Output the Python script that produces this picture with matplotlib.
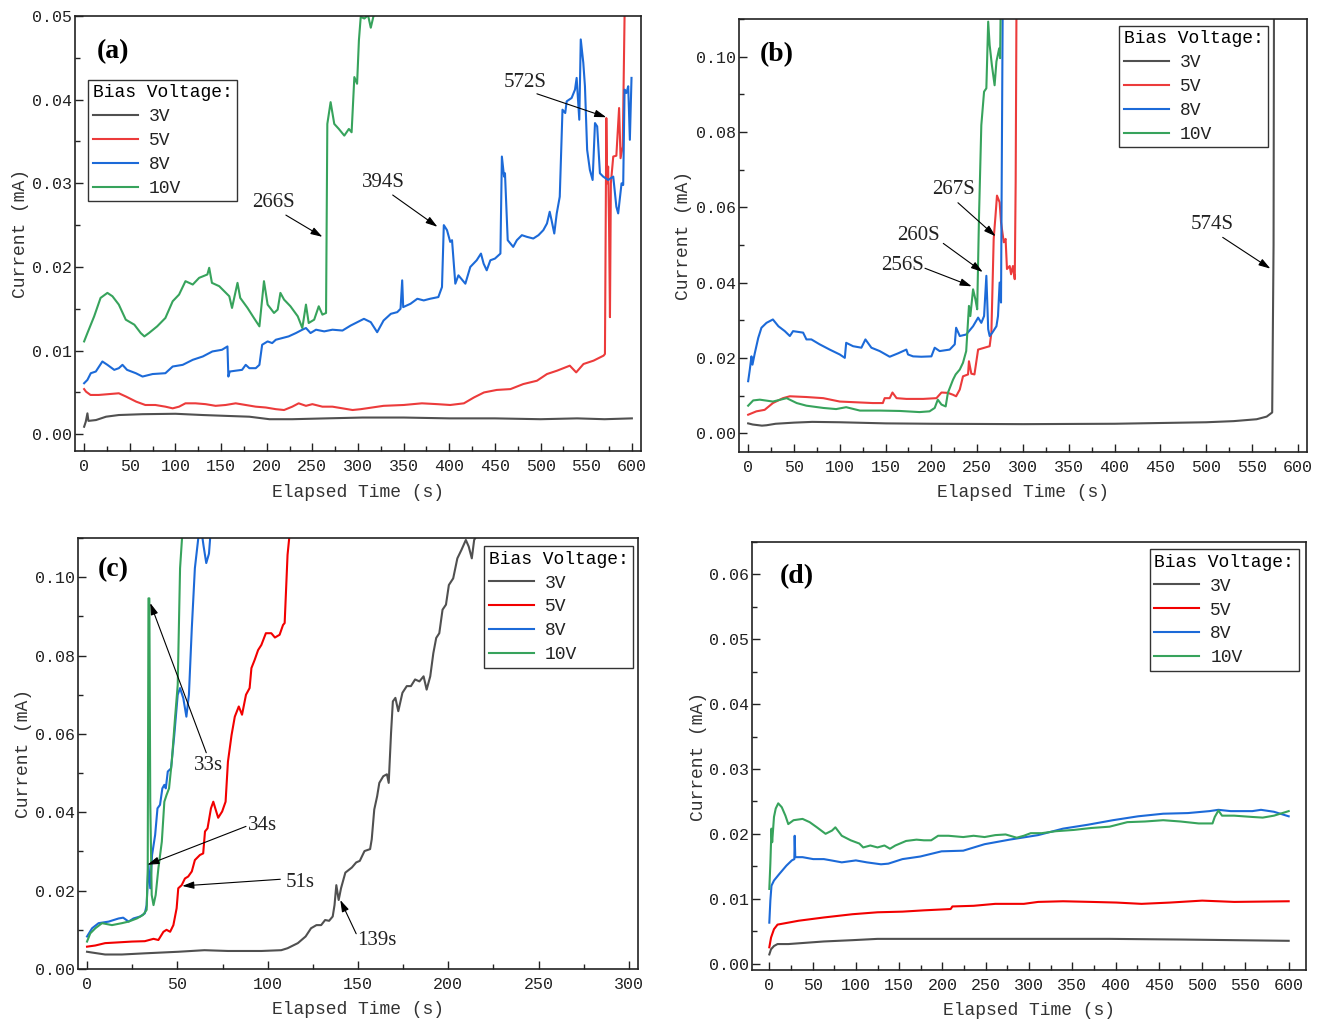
"""Leakage current vs elapsed time under four bias voltages, panels (a)-(d)."""
import numpy as np
import matplotlib
matplotlib.use("Agg")
import matplotlib.pyplot as plt
from matplotlib.ticker import MultipleLocator, FuncFormatter

plt.rcParams["font.family"] = ["Liberation Mono", "DejaVu Sans Mono"]

VOLTAGES = ["3V", "5V", "8V", "10V"]

# ---- panel (a): (time s, current mA) ----
A_3V = np.array([(0, 0.0009), (1.8, 0.0015), (3.6, 0.0025), (4.7, 0.0016), (13, 0.0017), (24, 0.0021),
                 (38, 0.0023), (64, 0.0024), (100, 0.00245), (130, 0.0023), (155, 0.0022), (181, 0.0021),
                 (203, 0.0018), (228, 0.0018), (265, 0.0019), (305, 0.0020), (350, 0.0020), (400, 0.0019),
                 (450, 0.0019), (500, 0.0018), (540, 0.0019), (570, 0.0018), (600, 0.0019)])
A_5V = np.array([(0, 0.0054), (2, 0.0051), (7, 0.0047), (16, 0.0047), (27, 0.0048), (38, 0.0049), (46, 0.0045),
                 (57, 0.0039), (67, 0.0035), (78, 0.0035), (89, 0.0033), (97, 0.0031), (104, 0.0033),
                 (111, 0.0037), (122, 0.0037), (133, 0.0036), (144, 0.0034), (155, 0.0035), (166, 0.0037),
                 (177, 0.0035), (188, 0.0033), (199, 0.0032), (210, 0.0030), (219, 0.0029), (228, 0.0033),
                 (235, 0.0037), (243, 0.0034), (250, 0.0036), (261, 0.0033), (272, 0.0033), (283, 0.0031),
                 (294, 0.0029), (303, 0.0030), (328, 0.0034), (350, 0.0035), (370, 0.0037), (387, 0.0036),
                 (401, 0.0035), (416, 0.0037), (427, 0.0044), (438, 0.0050), (452, 0.0053), (467, 0.0054),
                 (481, 0.0060), (496, 0.0064), (507, 0.0072), (518, 0.0076), (532, 0.0082), (539, 0.0074),
                 (547, 0.0084), (558, 0.0088), (569, 0.0094), (570.5, 0.0096), (572, 0.0378), (573, 0.0300),
                 (574, 0.0320), (575, 0.0250), (576, 0.0140), (577, 0.0300), (579.6, 0.0332), (583, 0.0333),
                 (586, 0.0390), (587.6, 0.0330), (590, 0.0344), (592, 0.0500), (593, 0.0600)])
A_8V = np.array([(0, 0.0061), (3.6, 0.0065), (7.3, 0.0073), (12.8, 0.0075), (20, 0.0087), (25.5, 0.0083),
                 (33, 0.0077), (38, 0.0079), (42, 0.0083), (47, 0.0077), (56.6, 0.0073), (64, 0.0069),
                 (75, 0.0072), (89, 0.0073), (97, 0.0081), (108, 0.0083), (119, 0.0089), (130, 0.0093),
                 (140.5, 0.0099), (151, 0.0101), (157, 0.0105), (158, 0.0069), (159.5, 0.0075), (166, 0.0076),
                 (173, 0.0077), (177, 0.0083), (181, 0.0079), (188, 0.0079), (192, 0.0083), (195, 0.0107),
                 (201, 0.0111), (206, 0.0109), (210, 0.0113), (217, 0.0115), (224, 0.0117), (232, 0.0121),
                 (239, 0.0125), (243, 0.0127), (248, 0.0121), (254, 0.0125), (263, 0.0123), (272, 0.0125),
                 (283, 0.0124), (292, 0.0130), (306.5, 0.0138), (314, 0.0134), (321, 0.0122), (328, 0.0136),
                 (336, 0.0144), (343, 0.0146), (346.6, 0.0150), (348.4, 0.0184), (349.5, 0.0152),
                 (357.5, 0.0156), (365, 0.0162), (372, 0.0160), (379, 0.0162), (388, 0.0164), (392, 0.0176),
                 (394, 0.0250), (397.5, 0.0244), (401, 0.0230), (403, 0.0232), (406.6, 0.0180), (410, 0.0190),
                 (417.6, 0.0180), (423, 0.0200), (430, 0.0208), (434.7, 0.0216), (437.6, 0.0204),
                 (441, 0.0196), (445, 0.0208), (450, 0.0210), (456, 0.0216), (457.6, 0.0332), (460, 0.0308),
                 (461, 0.0312), (464, 0.0232), (467, 0.0228), (470, 0.0224), (474, 0.0232), (479.5, 0.0238),
                 (485, 0.0236), (492, 0.0234), (497.7, 0.0238), (503, 0.0244), (507, 0.0252), (510, 0.0266),
                 (512, 0.0256), (515, 0.0240), (517.7, 0.0264), (521, 0.0284), (524, 0.0388), (527, 0.0384),
                 (528.6, 0.0398), (534, 0.0402), (537.7, 0.0412), (539.5, 0.0426), (542.4, 0.0376),
                 (544, 0.0472), (546.8, 0.0444), (548.6, 0.0416), (551, 0.0340), (554, 0.0316), (557, 0.0304),
                 (559.6, 0.0372), (562, 0.0368), (565, 0.0312), (568.6, 0.0308), (574, 0.0304),
                 (579.6, 0.0308), (583, 0.0272), (585, 0.0264), (588.7, 0.0300), (590.5, 0.0298),
                 (592, 0.0412), (594, 0.0408), (596, 0.0416), (597.8, 0.0352), (599.6, 0.0426)])
A_10V = np.array([(0, 0.0111), (3.6, 0.0121), (11, 0.0141), (18, 0.0163), (25.5, 0.0169), (31, 0.0165),
                  (38, 0.0155), (45.6, 0.0137), (55, 0.0131), (62, 0.0121), (66, 0.0117), (71, 0.0121),
                  (80, 0.0129), (89, 0.0139), (97, 0.0159), (104, 0.0167), (111, 0.0183), (119, 0.0179),
                  (126, 0.0187), (135, 0.0191), (137, 0.0199), (140, 0.0181), (148, 0.0177), (159, 0.0165),
                  (162, 0.0151), (168, 0.0181), (171, 0.0163), (179, 0.0151), (186, 0.0139), (192, 0.0129),
                  (197, 0.0183), (201, 0.0155), (208, 0.0145), (212, 0.0149), (215, 0.0169), (219, 0.0161),
                  (226, 0.0153), (234, 0.0141), (239, 0.0127), (243, 0.0155), (246, 0.0133), (252, 0.0137),
                  (257, 0.0153), (261, 0.0143), (265, 0.0145), (266.4, 0.0371), (270, 0.0397), (274, 0.0371),
                  (279, 0.0365), (285, 0.0357), (290, 0.0365), (293, 0.0361), (296, 0.0427), (299, 0.0419),
                  (301, 0.0471), (303, 0.0499), (307, 0.0497), (311, 0.0501), (314, 0.0486), (317, 0.0500),
                  (320, 0.0510), (322, 0.0550)])

# ---- panel (b) ----
B_3V = np.array([(0, 0.0026), (5, 0.0023), (15, 0.0020), (20, 0.0021), (30, 0.0025), (50, 0.0028),
                 (70, 0.0030), (100, 0.0029), (150, 0.0026), (200, 0.0025), (300, 0.0024), (400, 0.0025),
                 (500, 0.0029), (530, 0.0032), (555, 0.0037), (566, 0.0044), (572, 0.0055), (573.5, 0.0500),
                 (574, 0.1200)])
B_5V = np.array([(0, 0.0049), (9, 0.0058), (18, 0.0062), (27, 0.0080), (38, 0.0093), (45.5, 0.0098),
                 (63.6, 0.0096), (82, 0.0093), (100, 0.0084), (118, 0.0082), (136, 0.0080), (147, 0.0080),
                 (149, 0.0093), (154.5, 0.0093), (157.5, 0.0108), (162, 0.0093), (172.7, 0.0091),
                 (191, 0.0091), (205.5, 0.0093), (211, 0.0108), (218, 0.0107), (223.6, 0.0102), (227, 0.0098),
                 (231, 0.0116), (234.5, 0.0151), (240, 0.0156), (241, 0.0191), (243.6, 0.0158), (247, 0.0156),
                 (251, 0.0222), (258, 0.0227), (263.6, 0.0231), (265.5, 0.0267), (268, 0.0516), (270, 0.0578),
                 (271.6, 0.0631), (274.5, 0.0613), (276, 0.0560), (279, 0.0507), (281, 0.0516),
                 (282.5, 0.0436), (285.5, 0.0444), (287, 0.0422), (289, 0.0444), (291, 0.0409),
                 (292, 0.0667), (293, 0.1200)])
B_8V = np.array([(0, 0.0138), (1.8, 0.0169), (3.6, 0.0204), (4.7, 0.0182), (7.3, 0.0213), (11, 0.0253),
                 (14.5, 0.0280), (20, 0.0293), (27, 0.0302), (33, 0.0284), (40, 0.0271), (45.5, 0.0258),
                 (49, 0.0271), (60, 0.0267), (63.6, 0.0249), (69, 0.0249), (78, 0.0236), (89, 0.0222),
                 (100, 0.0209), (105.5, 0.0200), (107, 0.0240), (114.5, 0.0231), (123.6, 0.0227),
                 (128, 0.0249), (134.5, 0.0227), (143.6, 0.0218), (154.5, 0.0203), (163.6, 0.0212),
                 (172.7, 0.0222), (174.5, 0.0209), (180, 0.0204), (189, 0.0203), (200, 0.0204),
                 (203.6, 0.0227), (209, 0.0218), (220, 0.0222), (225.5, 0.0236), (227, 0.0280), (231, 0.0258),
                 (238, 0.0262), (245.5, 0.0284), (251, 0.0307), (254.5, 0.0293), (257.5, 0.0311),
                 (260, 0.0418), (262, 0.0276), (263.6, 0.0258), (266.5, 0.0267), (271, 0.0284),
                 (272.7, 0.0311), (274.5, 0.0400), (276, 0.0347), (278, 0.1200)])
B_10V = np.array([(0, 0.0073), (5.5, 0.0087), (12.7, 0.0089), (27, 0.0084), (42, 0.0093), (53, 0.0080),
                  (63.6, 0.0073), (82, 0.0067), (96, 0.0064), (107, 0.0069), (122, 0.0060), (143.6, 0.0060),
                  (165.5, 0.0059), (187, 0.0056), (198, 0.0058), (203.6, 0.0067), (207, 0.0089), (211, 0.0076),
                  (215.6, 0.0071), (218, 0.0107), (223.6, 0.0142), (226.5, 0.0156), (231, 0.0169),
                  (234.5, 0.0187), (238, 0.0218), (241, 0.0338), (242.5, 0.0311), (245.5, 0.0382),
                  (248, 0.0356), (250, 0.0329), (252, 0.0578), (254.5, 0.0818), (257.5, 0.0907),
                  (260, 0.0916), (262, 0.1093), (263.6, 0.1031), (266, 0.0978), (269, 0.0924), (271, 0.0987),
                  (274, 0.1022), (275, 0.0996), (276, 0.1200)])

# ---- panel (c) ----
C_3V = np.array([(0, 0.0044), (2.8, 0.0042), (10, 0.0037), (19.3, 0.0037), (32, 0.0040), (50.5, 0.0044),
                 (65, 0.0048), (78, 0.0046), (96.5, 0.0046), (107.5, 0.0048), (111, 0.0053), (116.7, 0.0066),
                 (121, 0.0083), (124, 0.0104), (127, 0.0112), (129.6, 0.0112), (131.8, 0.0125),
                 (134, 0.0123), (136, 0.0134), (137, 0.0163), (138, 0.0214), (139.3, 0.0176), (140.6, 0.0206),
                 (143, 0.0246), (146.6, 0.0259), (149, 0.0272), (151, 0.0276), (153.6, 0.0301),
                 (156.7, 0.0306), (157.6, 0.0331), (159, 0.0407), (160.6, 0.0441), (161.8, 0.0475),
                 (164, 0.0492), (166, 0.0497), (167, 0.0475), (168.3, 0.0603), (169.3, 0.0683),
                 (170.7, 0.0692), (172.3, 0.0658), (174.6, 0.0705), (177, 0.0722), (179.3, 0.0722),
                 (181.6, 0.0739), (184, 0.0734), (186.3, 0.0747), (188, 0.0713), (190, 0.0747),
                 (191.7, 0.0806), (193.3, 0.0845), (195, 0.0857), (196.8, 0.0917), (198.7, 0.0930),
                 (200.3, 0.0980), (202.7, 0.0997), (205, 0.1048), (207.3, 0.1070), (209.7, 0.1095),
                 (211.3, 0.1078), (213, 0.1048), (214.3, 0.1095), (215.5, 0.1104)])
C_5V = np.array([(0, 0.0057), (4.6, 0.0060), (10, 0.0066), (17.5, 0.0068), (24.8, 0.0070), (32, 0.0071),
                 (36.8, 0.0077), (39.5, 0.0074), (42.3, 0.0095), (44, 0.0100), (46, 0.0095), (47.8, 0.0112),
                 (49.6, 0.0155), (50.5, 0.0206), (52.4, 0.0214), (54.2, 0.0231), (56, 0.0236), (58, 0.0249),
                 (59.7, 0.0278), (62.5, 0.0291), (64.3, 0.0295), (65.3, 0.0351), (66.7, 0.0359),
                 (68.6, 0.0410), (69.9, 0.0427), (71, 0.0410), (72.6, 0.0386), (74.8, 0.0402),
                 (76.7, 0.0427), (78, 0.0529), (80, 0.0597), (81.8, 0.0644), (84, 0.0670), (85.8, 0.0649),
                 (88, 0.0700), (90, 0.0717), (91, 0.0768), (92.8, 0.0789), (94.7, 0.0814), (96.5, 0.0827),
                 (99, 0.0857), (102, 0.0857), (104, 0.0846), (106.6, 0.0853), (108.5, 0.0878),
                 (109.4, 0.0883), (111, 0.1057), (113, 0.1150)])
C_8V = np.array([(0, 0.0083), (2.8, 0.0104), (6.4, 0.0117), (12, 0.0121), (17.5, 0.0129), (20, 0.0131),
                 (23, 0.0121), (25.7, 0.0129), (29.4, 0.0134), (32, 0.0142), (33, 0.0163), (34, 0.0266),
                 (35, 0.0206), (36, 0.0291), (37.7, 0.0342), (39, 0.0410), (40.4, 0.0419), (41.7, 0.0461),
                 (42.8, 0.0470), (43.6, 0.0461), (44.7, 0.0504), (46.5, 0.0512), (48.3, 0.0597),
                 (50.2, 0.0700), (51.5, 0.0717), (53.3, 0.0691), (55, 0.0644), (56.4, 0.0700), (58, 0.0870),
                 (59.7, 0.1023), (61.6, 0.1100), (63, 0.1130), (64.5, 0.1080), (66, 0.1036), (67.5, 0.1060),
                 (69, 0.1150)])
C_10V = np.array([(0, 0.0070), (1.8, 0.0091), (4.6, 0.0104), (8.3, 0.0117), (13.8, 0.0112), (19.3, 0.0117),
                  (23, 0.0121), (27.6, 0.0129), (31, 0.0138), (33, 0.0151), (33.6, 0.0257), (34, 0.0946),
                  (34.5, 0.0946), (35, 0.0427), (35.8, 0.0189), (36.8, 0.0163), (38, 0.0189), (39.5, 0.0257),
                  (41.4, 0.0325), (42.8, 0.0427), (44, 0.0444), (45.4, 0.0461), (46.9, 0.0529),
                  (48.7, 0.0640), (50.2, 0.0725), (51.5, 0.1023), (53.3, 0.1150)])

# ---- panel (d) ----
D_3V = np.array([(0, 0.0014), (2, 0.0022), (5.4, 0.0027), (9.5, 0.0030), (22, 0.0030), (63, 0.0034),
                 (96, 0.0036), (125, 0.0038), (166, 0.0038), (269, 0.0038), (393, 0.0038), (475, 0.0037),
                 (600, 0.0035)])
D_5V = np.array([(0, 0.0025), (2, 0.0040), (5.4, 0.0053), (9.5, 0.0060), (17.7, 0.0062), (34, 0.0066),
                 (63, 0.0071), (96, 0.0076), (125, 0.0079), (153.8, 0.0080), (178.6, 0.0082),
                 (209.5, 0.0084), (211.5, 0.0088), (236, 0.0089), (261, 0.0092), (294, 0.0092),
                 (310.5, 0.0095), (339.4, 0.0096), (372, 0.0095), (401, 0.0094), (430, 0.0092),
                 (463, 0.0094), (500, 0.0097), (537, 0.0095), (600, 0.0096)])
D_8V = np.array([(0, 0.0063), (1.2, 0.0097), (2.5, 0.0120), (5.4, 0.0128), (11.5, 0.0138), (19.8, 0.0151),
                 (26, 0.0159), (28.9, 0.0161), (29.3, 0.0197), (30, 0.0164), (38.4, 0.0164), (50.7, 0.0161),
                 (63, 0.0161), (71.5, 0.0159), (83.7, 0.0156), (100, 0.0159), (112.6, 0.0156), (129, 0.0153),
                 (137.5, 0.0154), (153.8, 0.0161), (174.4, 0.0165), (199, 0.0173), (224, 0.0174),
                 (248.7, 0.0184), (277.5, 0.0191), (310.5, 0.0198), (339.4, 0.0208), (368, 0.0214),
                 (397, 0.0221), (426, 0.0227), (455, 0.0231), (483.7, 0.0232), (508.5, 0.0235),
                 (518.8, 0.0237), (533, 0.0235), (558, 0.0235), (568, 0.0237), (583, 0.0234), (600, 0.0227)])
D_10V = np.array([(0, 0.0115), (1.2, 0.0154), (2.5, 0.0208), (3.3, 0.0187), (5.4, 0.0226), (7.4, 0.0239),
                  (10.3, 0.0247), (14.4, 0.0241), (18.6, 0.0228), (21.9, 0.0215), (28, 0.0221),
                  (38.4, 0.0223), (46.6, 0.0218), (55, 0.0210), (65, 0.0200), (72.4, 0.0205), (76.3, 0.0210),
                  (83.7, 0.0197), (94, 0.0190), (104, 0.0185), (108.5, 0.0179), (116.7, 0.0182),
                  (125, 0.0179), (133, 0.0182), (139.4, 0.0177), (145.6, 0.0182), (158, 0.0189),
                  (170, 0.0191), (178.6, 0.0190), (187, 0.0190), (195, 0.0197), (207, 0.0197), (224, 0.0195),
                  (236, 0.0197), (248.7, 0.0195), (261, 0.0198), (273, 0.0199), (285.8, 0.0194),
                  (294, 0.0197), (302, 0.0201), (314.6, 0.0201), (331, 0.0204), (351.8, 0.0206),
                  (372, 0.0209), (393, 0.0211), (413.6, 0.0218), (434, 0.0219), (455, 0.0221),
                  (475, 0.0219), (496, 0.0216), (512, 0.0216), (514.6, 0.0226), (518.8, 0.0236),
                  (523, 0.0228), (537, 0.0228), (558, 0.0226), (570, 0.0225), (583, 0.0228), (600, 0.0235)])

GRAY = "#505050"
BLUE = "#1c6ad8"
GREEN = "#37a35c"
RED_LIGHT = "#ec3b3b"
RED_PURE = "#f20000"

fig = plt.figure(figsize=(13.2, 10.22), dpi=100)
ax_a = fig.add_axes([75 / 1320, 1 - 451 / 1022, 566 / 1320, 435 / 1022])
ax_b = fig.add_axes([739 / 1320, 1 - 452 / 1022, 568 / 1320, 433 / 1022])
ax_c = fig.add_axes([78 / 1320, 1 - 969 / 1022, 560 / 1320, 431 / 1022])
ax_d = fig.add_axes([752 / 1320, 1 - 970 / 1022, 554 / 1320, 428 / 1022])


def fmt(v, pos):
    if abs(v) < 1e-9:
        v = 0.0
    return f"{v:.2f}"


def draw_panel(ax, series, red, letter, xlim, ylim, ymaj, ymin, xmaj, xmin, leg_xy):
    for (data, color, name) in zip(series, [GRAY, red, BLUE, GREEN], VOLTAGES):
        ax.plot(data[:, 0], data[:, 1], color=color, lw=1.5, label=name)
    ax.set_xlim(*xlim)
    ax.set_ylim(*ylim)
    ax.xaxis.set_major_locator(MultipleLocator(xmaj))
    ax.xaxis.set_minor_locator(MultipleLocator(xmin))
    ax.yaxis.set_major_locator(MultipleLocator(ymaj))
    ax.yaxis.set_minor_locator(MultipleLocator(ymin))
    ax.yaxis.set_major_formatter(FuncFormatter(fmt))
    ax.tick_params(which="both", direction="in", width=1.0, labelsize=12, colors="#222222")
    ax.tick_params(which="major", length=6)
    ax.tick_params(which="minor", length=3.5)
    ax.tick_params(axis="x", pad=6)
    ax.tick_params(axis="y", pad=2)
    for sp in ax.spines.values():
        sp.set_linewidth(1.2)
        sp.set_color("#222222")
    ax.set_xlabel("Elapsed Time (s)", fontsize=13, color="#333333")
    ax.set_ylabel("Current (mA)", fontsize=13, color="#333333")
    ax.xaxis.set_label_coords(0.5, -0.075)
    ax.yaxis.set_label_coords(-0.082, 0.5)
    leg = ax.legend(loc="upper left", bbox_to_anchor=leg_xy, title="Bias Voltage:",
                    fontsize=13, title_fontsize=13, frameon=True, fancybox=False,
                    edgecolor="#333333", framealpha=1, borderaxespad=0, borderpad=0.25,
                    handlelength=2.5, handletextpad=0.6, labelspacing=0.38, alignment="left")
    leg.get_frame().set_linewidth(1.0)
    for t in leg.get_texts():
        t.set_color("#222222")
    ax.text(letter[1], letter[2], letter[0], transform=ax.transAxes, ha="center", va="center",
            fontsize=20, fontweight="bold", family="Liberation Serif")


def note(ax, label, text_xy, tail, tip):
    ax.text(text_xy[0], text_xy[1], label, ha="center", va="center", fontsize=15,
            family="Liberation Serif", color="#222222")
    ax.annotate("", xy=tip, xytext=tail,
                arrowprops=dict(arrowstyle="-|>,head_length=0.7,head_width=0.22",
                                color="black", lw=0.8, shrinkA=0, shrinkB=0))


draw_panel(ax_a, [A_3V, A_5V, A_8V, A_10V], RED_LIGHT, ("(a)", 0.067, 0.917),
           (-10, 610), (-0.002, 0.05), 0.01, 0.005, 50, 25, (0.023, 0.853))
note(ax_a, "266S", (207, 0.0277), (221, 0.0262), (261, 0.0236))
note(ax_a, "394S", (328, 0.0301), (338, 0.0286), (387, 0.0248))
note(ax_a, "572S", (483, 0.0421), (496, 0.0407), (572, 0.0379))

draw_panel(ax_b, [B_3V, B_5V, B_8V, B_10V], RED_LIGHT, ("(b)", 0.067, 0.917),
           (-10, 610), (-0.005, 0.11), 0.02, 0.01, 50, 25, (0.669, 0.984))
note(ax_b, "267S", (224, 0.0646), (229, 0.0612), (270, 0.0523))
note(ax_b, "260S", (186, 0.0526), (213, 0.0504), (256, 0.0428))
note(ax_b, "256S", (169, 0.0444), (193, 0.0438), (244, 0.0390))
note(ax_b, "574S", (507, 0.0553), (518, 0.0520), (570, 0.0437))

draw_panel(ax_c, [C_3V, C_5V, C_8V, C_10V], RED_PURE, ("(c)", 0.0625, 0.926),
           (-5, 305), (0, 0.11), 0.02, 0.01, 50, 25, (0.725, 0.981))
note(ax_c, "33s", (67.5, 0.0519), (66, 0.0552), (35, 0.0934))
note(ax_c, "34s", (97, 0.0366), (88, 0.0364), (33.4, 0.0266))
note(ax_c, "51s", (118, 0.0222), (107, 0.0229), (52.7, 0.0212))
note(ax_c, "139s", (160.7, 0.0074), (149, 0.0090), (140.2, 0.0176))

draw_panel(ax_d, [D_3V, D_5V, D_8V, D_10V], RED_PURE, ("(d)", 0.081, 0.918),
           (-20, 620), (-0.001, 0.065), 0.01, 0.005, 50, 25, (0.718, 0.983))

fig.savefig("out.png", dpi=100, facecolor="white")
